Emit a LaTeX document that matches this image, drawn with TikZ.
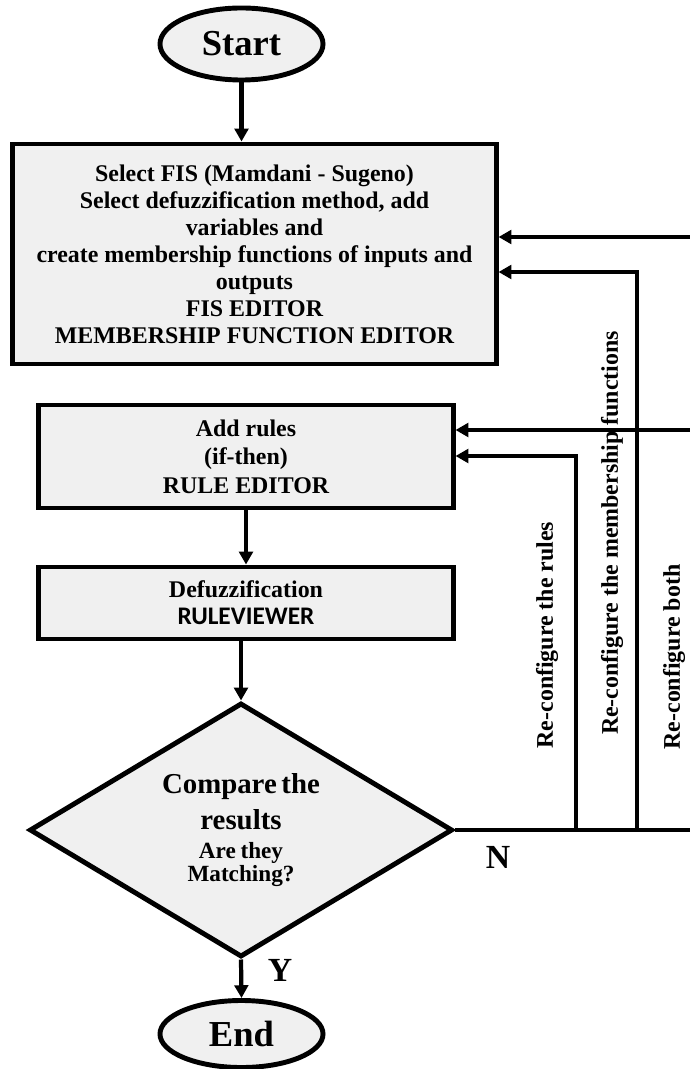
\documentclass[tikz,border=0pt]{standalone}
\usepackage{fontspec}
\setmainfont{Liberation Serif}
\newfontfamily\viewfont{Carlito}
\usetikzlibrary{positioning,shapes.geometric,arrows.meta}

\begin{document}
\begin{tikzpicture}[x=0.025cm,y=-0.025cm,
  box/.style={draw,line width=3.5pt,fill=gray!12,align=center,inner sep=0pt},
  term/.style={draw,ellipse,line width=3.5pt,fill=gray!12,inner sep=0pt,minimum width=4.075cm,font=\fontsize{26}{30}\selectfont\bfseries},
  link/.style={line width=3pt},
  arr/.style={link,-{Triangle[length=0.32cm,width=0.34cm]}},
  side/.style={rotate=90,font=\fontsize{17}{20}\selectfont\bfseries},
  yn/.style={font=\fontsize{24}{28}\selectfont\bfseries}]
\useasboundingbox (0,0) rectangle (689,1069);
% terminals and steps
\node[term,minimum height=1.8cm] (start) at (241.5,44) {Start};
\node[box,minimum width=12.075cm,minimum height=5.5cm,font=\fontsize{17}{19.2}\selectfont\bfseries] (fis) at (254.5,254)
  {Select FIS (Mamdani - Sugeno)\\Select defuzzification method, add\\variables and\\create membership functions of inputs and\\outputs\\FIS EDITOR\\MEMBERSHIP FUNCTION EDITOR};
\node[box,minimum width=10.35cm,minimum height=2.575cm,font=\fontsize{17}{20.2}\selectfont\bfseries] (rules) at (246,456.5)
  {Add rules\\(if-then)\\RULE EDITOR};
\node[box,minimum width=10.35cm,minimum height=1.8cm,font=\fontsize{17}{19.2}\selectfont\bfseries] (defuzz) at (246,603)
  {Defuzzification\\{\viewfont\fontsize{18}{19.2}\selectfont\bfseries RULEVIEWER}};
\node[diamond,draw,line width=3.5pt,fill=gray!12,aspect=1.66,inner sep=0pt,minimum width=10.575cm,minimum height=6.35cm,
  text width=4.6cm,align=center,font=\bfseries] (cmp) at (241,830)
  {\fontsize{20.5}{25.5}\selectfont Compare the\par results\par\fontsize{16.5}{21}\selectfont Are they\par Matching?};
\node[term,minimum height=1.675cm] (stop) at (241.5,1034) {End};
\node[yn] (yes) at (280,970) {Y};
\node[yn] (no) at (498,857) {N};
% main flow
\draw[arr] (start.south) -- (start.south |- fis.north);
\draw[arr] (rules.south) -- (defuzz.north);
\draw[arr] (cmp.north |- defuzz.south) -- (cmp.north);
\draw[arr] (cmp.south) -- (stop.north);
% feedback loops
\coordinate (rr) at (576,456);
\coordinate (mm) at (637,272);
\coordinate (bb1) at (697,237);
\coordinate (bb2) at (697,430);
\draw[link] (cmp.east) -- (cmp.east -| bb1) -- (bb1);
\draw[arr] (cmp.east -| rr) -- (rr) -- (rr -| rules.east);
\draw[arr] (cmp.east -| mm) -- (mm) -- (mm -| fis.east);
\draw[arr] (bb1) -- (bb1 -| fis.east);
\draw[arr] (bb2) -- (bb2 -| rules.east);
\node[side] (lrules) at (547,635) {Re-configure the rules};
\node[side] (lmember) at (612,533) {Re-configure the membership functions};
\node[side] (lboth) at (674,657) {Re-configure both};
\end{tikzpicture}
\end{document}
